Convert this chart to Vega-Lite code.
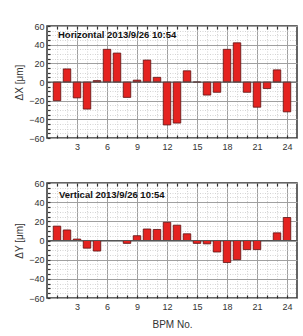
{
  "$schema": "https://vega.github.io/schema/vega-lite/v6.json",
  "padding": {"left": 13, "top": 21, "right": 3, "bottom": 4},
  "spacing": 26,
  "data": {"values": [
    {"bpm": 1, "dX": -20, "dY": 15},
    {"bpm": 2, "dX": 14, "dY": 11},
    {"bpm": 3, "dX": -17, "dY": 1.5},
    {"bpm": 4, "dX": -29, "dY": -8},
    {"bpm": 5, "dX": 1.5, "dY": -11},
    {"bpm": 6, "dX": 35, "dY": 0},
    {"bpm": 7, "dX": 31, "dY": 0},
    {"bpm": 8, "dX": -16.5, "dY": -3},
    {"bpm": 9, "dX": 2, "dY": 5},
    {"bpm": 10, "dX": 23.5, "dY": 12},
    {"bpm": 11, "dX": 5, "dY": 11.5},
    {"bpm": 12, "dX": -46, "dY": 19},
    {"bpm": 13, "dX": -44, "dY": 16},
    {"bpm": 14, "dX": 12, "dY": 7},
    {"bpm": 15, "dX": 0, "dY": -3},
    {"bpm": 16, "dX": -14, "dY": -3.5},
    {"bpm": 17, "dX": -11, "dY": -12},
    {"bpm": 18, "dX": 35, "dY": -23},
    {"bpm": 19, "dX": 42, "dY": -20},
    {"bpm": 20, "dX": -11, "dY": -9.5},
    {"bpm": 21, "dX": -27, "dY": -9.5},
    {"bpm": 22, "dX": -7, "dY": 0},
    {"bpm": 23, "dX": 13, "dY": 8},
    {"bpm": 24, "dX": -32, "dY": 24}
  ]},
  "vconcat": [
    {
      "width": 250,
      "height": 112,
      "resolve": {"axis": {"x": "independent", "y": "independent"}},
      "layer": [
        {
          "mark": {"type": "bar", "width": 7.5, "fill": "#e42320", "stroke": "#5c1212", "strokeWidth": 0.8},
          "encoding": {
            "x": {"field": "bpm", "type": "quantitative",
              "scale": {"domain": [0.5, 24.5], "nice": false, "zero": false},
              "axis": {"orient": "bottom", "title": null, "values": [1,2,3,4,5,6,7,8,9,10,11,12,13,14,15,16,17,18,19,20,21,22,23,24],
                "labelExpr": "datum.value % 3 == 0 ? datum.label : ''", "labelOverlap": false,
                "grid": true,
                "gridColor": {"condition": {"test": "datum.value % 3 == 0", "value": "#a0a0a0"}, "value": "#d4d4d4"},
                "gridDash": {"condition": {"test": "datum.value % 3 == 0", "value": []}, "value": [1, 1.5]},
                "tickSize": -3, "tickWidth": 1.2, "labelPadding": 7, "domain": false}},
            "y": {"field": "dX", "type": "quantitative",
              "scale": {"domain": [-60, 60], "nice": false},
              "axis": {"title": "ΔX [μm]", "values": [-60,-55,-50,-45,-40,-35,-30,-25,-20,-15,-10,-5,0,5,10,15,20,25,30,35,40,45,50,55,60],
                "labelExpr": "datum.value % 20 == 0 ? datum.label : ''", "labelOverlap": false,
                "grid": true,
                "gridColor": {"condition": {"test": "datum.value % 20 == 0", "value": "#a0a0a0"}, "value": "#d4d4d4"},
                "gridDash": {"condition": {"test": "datum.value % 20 == 0", "value": []}, "value": [1, 1.5]},
                "tickSize": -3, "tickWidth": 1.2, "labelPadding": 6, "titlePadding": 4, "domain": false}}
          }
        },
        {
          "data": {"values": [{"z": 0}]},
          "mark": {"type": "rule", "color": "#555555", "strokeWidth": 1},
          "encoding": {"y": {"field": "z", "type": "quantitative", "axis": null}}
        },
        {
          "data": {"values": [{"label": "Horizontal 2013/9/26 10:54", "px": 1.1, "py": 50.5}]},
          "mark": {"type": "text", "align": "left", "baseline": "middle", "font": "Liberation Sans", "fontSize": 9.5, "fontWeight": "bold", "color": "#111111"},
          "encoding": {
            "x": {"field": "px", "type": "quantitative",
              "axis": {"orient": "top", "title": null, "labels": false, "grid": false, "domain": false,
                "values": [1,2,3,4,5,6,7,8,9,10,11,12,13,14,15,16,17,18,19,20,21,22,23,24],
                "tickSize": -3, "tickWidth": 1.2}},
            "y": {"field": "py", "type": "quantitative", "axis": null},
            "text": {"field": "label"}
          }
        }
      ]
    },
    {
      "width": 250,
      "height": 115,
      "resolve": {"axis": {"x": "independent", "y": "independent"}},
      "layer": [
        {
          "mark": {"type": "bar", "width": 7.5, "fill": "#e42320", "stroke": "#5c1212", "strokeWidth": 0.8},
          "encoding": {
            "x": {"field": "bpm", "type": "quantitative",
              "scale": {"domain": [0.5, 24.5], "nice": false, "zero": false},
              "axis": {"orient": "bottom", "title": "BPM No.", "values": [1,2,3,4,5,6,7,8,9,10,11,12,13,14,15,16,17,18,19,20,21,22,23,24],
                "labelExpr": "datum.value % 3 == 0 ? datum.label : ''", "labelOverlap": false,
                "grid": true,
                "gridColor": {"condition": {"test": "datum.value % 3 == 0", "value": "#a0a0a0"}, "value": "#d4d4d4"},
                "gridDash": {"condition": {"test": "datum.value % 3 == 0", "value": []}, "value": [1, 1.5]},
                "tickSize": -3, "tickWidth": 1.2, "labelPadding": 7, "titlePadding": 8, "domain": false}},
            "y": {"field": "dY", "type": "quantitative",
              "scale": {"domain": [-60, 60], "nice": false},
              "axis": {"title": "ΔY [μm]", "values": [-60,-55,-50,-45,-40,-35,-30,-25,-20,-15,-10,-5,0,5,10,15,20,25,30,35,40,45,50,55,60],
                "labelExpr": "datum.value % 20 == 0 ? datum.label : ''", "labelOverlap": false,
                "grid": true,
                "gridColor": {"condition": {"test": "datum.value % 20 == 0", "value": "#a0a0a0"}, "value": "#d4d4d4"},
                "gridDash": {"condition": {"test": "datum.value % 20 == 0", "value": []}, "value": [1, 1.5]},
                "tickSize": -3, "tickWidth": 1.2, "labelPadding": 6, "titlePadding": 4, "domain": false}}
          }
        },
        {
          "data": {"values": [{"z": 0}]},
          "mark": {"type": "rule", "color": "#555555", "strokeWidth": 1},
          "encoding": {"y": {"field": "z", "type": "quantitative", "axis": null}}
        },
        {
          "data": {"values": [{"label": "Vertical 2013/9/26 10:54", "px": 1.2, "py": 48}]},
          "mark": {"type": "text", "align": "left", "baseline": "middle", "font": "Liberation Sans", "fontSize": 9.5, "fontWeight": "bold", "color": "#111111"},
          "encoding": {
            "x": {"field": "px", "type": "quantitative",
              "axis": {"orient": "top", "title": null, "labels": false, "grid": false, "domain": false,
                "values": [1,2,3,4,5,6,7,8,9,10,11,12,13,14,15,16,17,18,19,20,21,22,23,24],
                "tickSize": -3, "tickWidth": 1.2}},
            "y": {"field": "py", "type": "quantitative", "axis": null},
            "text": {"field": "label"}
          }
        }
      ]
    }
  ],
  "config": {
    "font": "Liberation Sans",
    "axis": {"labelFont": "Liberation Sans", "labelFontSize": 9, "labelColor": "#333333",
      "titleFont": "Liberation Sans", "titleFontSize": 10, "titleFontWeight": "normal", "titleColor": "#333333",
      "tickColor": "#333333", "gridWidth": 1},
    "view": {"stroke": "#333333", "strokeWidth": 1.5}
  }
}
